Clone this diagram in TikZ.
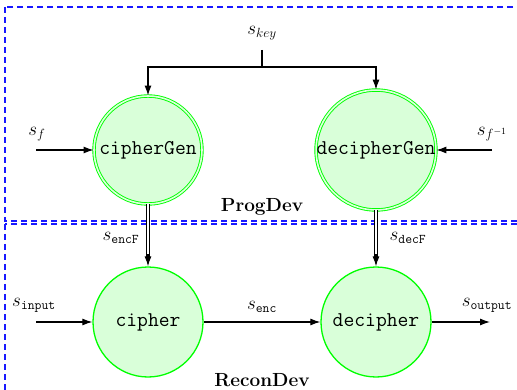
\RequirePackage{fix-cm}
\documentclass[tikz,border=0pt]{standalone}
\usepackage{fontspec}
\usetikzlibrary{arrows.meta}
\begin{document}
\begin{tikzpicture}[x=1pt,y=-1pt,
  proc/.style={circle,draw=green,fill=green!15,line width=1.3pt,minimum size=110pt,inner sep=0pt,
    font=\fontsize{21}{24}\selectfont\ttfamily},
  gen/.style={proc,line width=0.9pt,double=green!12,double distance=1.6pt,minimum size=108pt},
  arr/.style={-{Latex[length=10pt,width=7pt]},line width=1.1pt},
  lab/.style={font=\fontsize{19}{22}\selectfont,inner sep=0pt},
  dev/.style={font=\fontsize{19}{22}\selectfont\bfseries,inner sep=0pt},
  dbl/.style={line width=1pt,double,double distance=1.6pt,shorten >=9pt},
  box/.style={draw=blue!90!white,line width=1.1pt,dash pattern=on 6pt off 4pt}]
\useasboundingbox (0,0) rectangle (517,390);
\draw[box] (5,7) rectangle (530,221);
\draw[box] (5,224) rectangle (530,400);

\node[gen] (cg) at (148,150) {cipherGen};
\node[gen] (dg) at (376,150) {decipherGen};
\node[proc] (c) at (148,322) {cipher};
\node[proc] (d) at (376,322) {decipher};

\node[lab] (key) at (262,33) {$s_{key}$};
\coordinate (keyj) at (262,67);
\draw[line width=1.1pt] (262,50) -- (keyj);
\draw[arr] (keyj) -| (cg.north);
\draw[arr] (keyj) -| (dg.north);

\node[lab] (sf) at (37,134) {$s_f$};
\coordinate (sfs) at (36,150);
\draw[arr] (sfs) -- (cg.west);
\node[lab] (sfi) at (492,134) {$s_{f^{-1}}$};
\coordinate (sfis) at (492,150);
\draw[arr] (sfis) -- (dg.east);

\node[dev] (pd) at (262,207) {ProgDev};
\node[dev] (rd) at (262,380) {ReconDev};

\draw[dbl] (cg.south) -- (c.north);
\draw[arr] ([yshift=12pt]c.north) -- (c.north);
\node[lab] (senc) at (121,238) {$s_{\mathtt{encF}}$};
\draw[dbl] (dg.south) -- (d.north);
\draw[arr] ([yshift=12pt]d.north) -- (d.north);
\node[lab] (sdec) at (408,238) {$s_{\mathtt{decF}}$};

\node[lab] (sin) at (34,305) {$s_{\mathtt{input}}$};
\coordinate (sins) at (36,322);
\draw[arr] (sins) -- (c.west);
\draw[arr] (c.east) -- (d.west);
\node[lab] (sen) at (262,307) {$s_{\mathtt{enc}}$};
\coordinate (sout) at (490,322);
\draw[arr] (d.east) -- (sout);
\node[lab] (so) at (487,305) {$s_{\mathtt{output}}$};
\end{tikzpicture}
\end{document}
